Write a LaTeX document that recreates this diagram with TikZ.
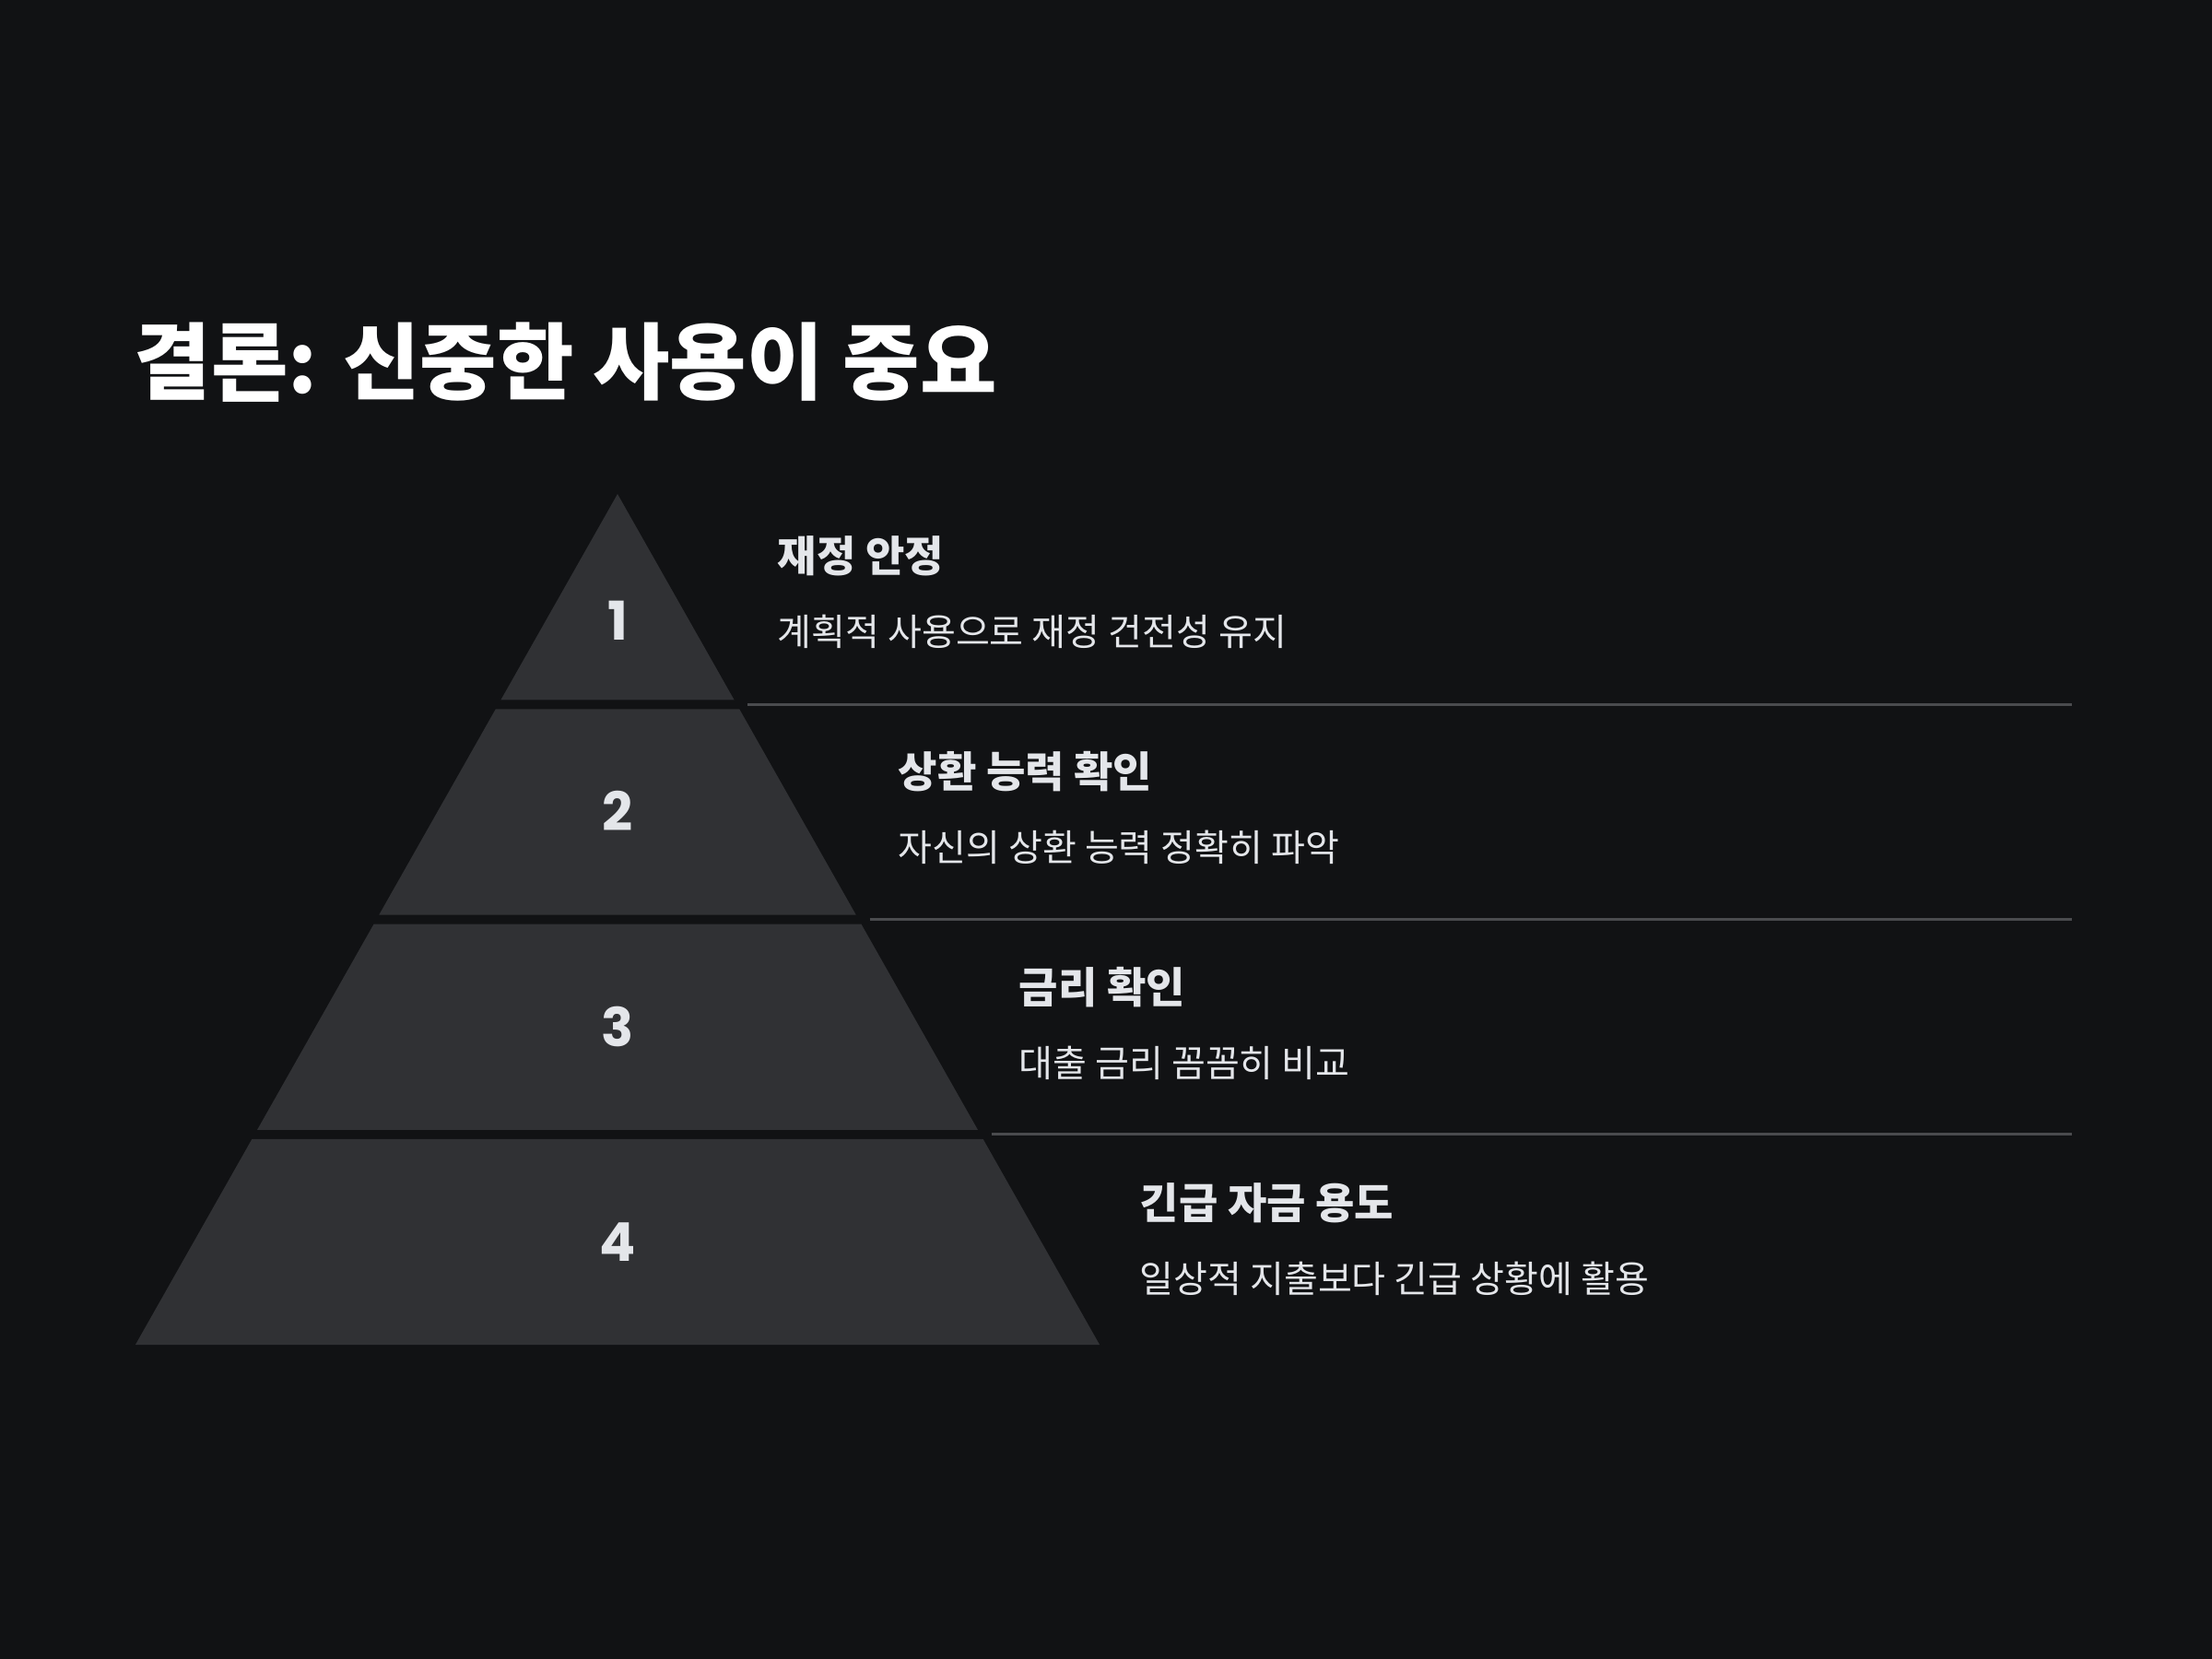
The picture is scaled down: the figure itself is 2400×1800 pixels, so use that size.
\documentclass[tikz,border=0pt]{standalone}
\usepackage{fontspec}
\usepackage{xcolor}
\usepackage{tikz}
\usetikzlibrary{positioning, calc}
\setmainfont{Noto Sans CJK KR}
\newfontfamily\numfont{Poppins}

\definecolor{pagebg}{HTML}{111214}
\definecolor{tierfill}{HTML}{303134}
\definecolor{rulegray}{HTML}{4A4B4E}
\definecolor{textgray}{HTML}{E4E6EA}

\tikzset{
  headline/.style={anchor=west, inner sep=0pt, text=white, font=\bfseries\fontsize{25.8}{30}\selectfont},
  tiertitle/.style={anchor=west, inner sep=0pt, text=textgray, font=\bfseries\fontsize{13.1}{15}\selectfont},
  tierdesc/.style={anchor=west, inner sep=0pt, text=textgray, font=\fontsize{11.4}{14}\selectfont},
  tiernum/.style={inner sep=0pt, text=textgray, font=\numfont\bfseries\fontsize{16.5}{20}\selectfont},
  tierrule/.style={rulegray, line width=0.85pt},
}

\begin{document}
\begin{tikzpicture}[x=0.01cm, y=-0.01cm]
        % page
        \fill[pagebg] (0,0) rectangle (2400,1800);
        \useasboundingbox (0,0) rectangle (2400,1800);

        \node[headline] (title) at (145,393) {결론: 신중한 사용이 중요};

        % pyramid tiers
        \foreach \i/\ny/\ttl/\dsc in {1/673/재정 안정/계획적 사용으로 재정 건전성 유지,
                                      2/880/상환 능력 확인/자신의 상환 능력 정확히 파악,
                                      3/1114/금리 확인/대출 금리 꼼꼼히 비교,
                                      4/1348/긴급 자금 용도/일상적 지출보다 긴급 상황에 활용} {
          \pgfmathsetmacro{\yt}{536+(\i-1)*233.25}
          \pgfmathsetmacro{\yb}{\yt+223.25}
          \pgfmathsetmacro{\wt}{(\yt-536)*0.5667}
          \pgfmathsetmacro{\wb}{(\yb-536)*0.5667}
          \fill[tierfill] (670-\wt,\yt) -- (670+\wt,\yt) -- (670+\wb,\yb) -- (670-\wb,\yb) -- cycle;
          \node[tiernum] (num\i) at (670,\ny) {\i};
          \node[tiertitle] (head\i) at (843+\i*131-131, 603+\i*234-234) {\ttl};
          \node[tierdesc] (desc\i) at (843+\i*131-131, 685+\i*234-234) {\dsc};
        }

        % separators
        \foreach \i in {1,2,3} {
          \pgfmathsetmacro{\ys}{536+\i*233.25-5}
          \coordinate (sepL\i) at (670+\ys*0.5667-536*0.5667+12,\ys);
          \coordinate (sepR\i) at (2248,\ys);
          \draw[tierrule] (sepL\i) -- (sepR\i);
        }
      \end{tikzpicture}
\end{document}
